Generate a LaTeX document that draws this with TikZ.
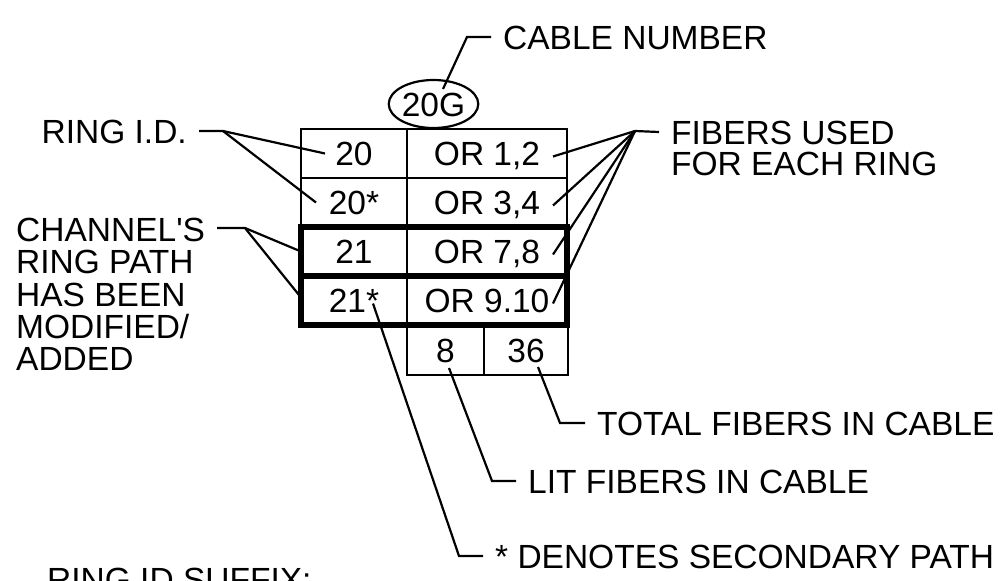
\documentclass[tikz,border=0pt]{standalone}
\usepackage{fontspec}
\setmainfont{Liberation Sans}
\usetikzlibrary{shapes.geometric,calc}

\begin{document}
\begin{tikzpicture}[x=1pt, y=-1pt,
  font=\fontsize{33.5}{31}\selectfont,
  cell/.style={draw, line width=2.2pt, inner sep=0pt, outer sep=0pt, minimum height=49pt, text height=24pt, text depth=0pt},
  lbl/.style={inner xsep=12pt, inner ysep=0pt, text height=24pt, text depth=0pt},
  lblblock/.style={inner xsep=12pt, inner ysep=0pt, align=left},
  lead/.style={line width=2.2pt},
  heavy/.style={line width=5.2pt}]
  \useasboundingbox (0,0) rectangle (1007,581);
  % ring table
  \node[cell, minimum width=106pt] (id1) at (354,153.5) {20};
  \node[cell, minimum width=160pt] (fib1) at (487,153.5) {OR 1,2};
  \node[cell, minimum width=106pt] (id2) at (354,202.5) {20*};
  \node[cell, minimum width=160pt] (fib2) at (487,202.5) {OR 3,4};
  \node[cell, minimum width=106pt] (id3) at (354,251.5) {21};
  \node[cell, minimum width=160pt] (fib3) at (487,251.5) {OR 7,8};
  \node[cell, minimum width=106pt] (id4) at (354,300.5) {21*};
  \node[cell, minimum width=160pt] (fib4) at (487,300.5) {OR 9.10};
  \node[cell, minimum width=77pt, minimum height=50pt] (lit) at (445.5,350) {8};
  \node[cell, minimum width=84pt, minimum height=50pt] (tot) at (526,350) {36};
  % modified rows
  \draw[heavy] (id3.north west) rectangle (fib4.south east);
  \draw[heavy] (id3.south west) -- (fib3.south east);
  % cable number
  \node[draw, ellipse, line width=2.2pt, minimum width=89pt, minimum height=48pt, inner sep=0pt, text height=24pt, text depth=0pt] (cable) at (433.5,104) {20G};
  % labels
  \node[lbl, anchor=base west] (cablelbl) at (491,49) {CABLE NUMBER};
  \node[lbl, anchor=base east] (ringlbl) at (199,143) {RING I.D.};
  \node[lblblock, anchor=north west] (fiberlbl) at (659,121) {FIBERS USED\\FOR EACH RING};
  \node[lblblock, anchor=north west, font=\fontsize{33.5}{32.3}\selectfont] (chanlbl) at (4,218) {CHANNEL\textquotesingle S\\RING PATH\\HAS BEEN\\MODIFIED/\\ADDED};
  \node[lbl, anchor=base west] (totlbl) at (585,435) {TOTAL FIBERS IN CABLE};
  \node[lbl, anchor=base west] (litlbl) at (516,493) {LIT FIBERS IN CABLE};
  \node[lbl, anchor=base west] (denlbl) at (483,568) {* DENOTES SECONDARY PATH};
  \node[lbl, anchor=base west] (suffixlbl) at (35,591) {RING ID SUFFIX:};
  % leaders
  \draw[lead] ($(cable.center)+(9.5,-15)$) -- ($(cablelbl.west)+(-24,0)$) -- (cablelbl.west);
  \coordinate (ringjoin) at (223,131);
  \draw[lead] (ringlbl.east) -- (ringjoin) -- ($(id1.center)+(-29,0)$);
  \draw[lead] (ringjoin) -- ($(id2.center)+(-38,0)$);
  \coordinate (chanjoin) at (245,228);
  \draw[lead] ($(chanlbl.north east)+(0,10)$) -- (chanjoin) -- (id3.west);
  \draw[lead] (chanjoin) -- ($(id4.west)+(0,-3)$);
  \coordinate (fibjoin) at (635,131);
  \draw[lead] ($(fiberlbl.north west)+(0,11)$) -- (fibjoin);
  \foreach \i in {1,...,4} \draw[lead] (fibjoin) -- ($(fib\i.east)+(-14,3)$);
  \draw[lead] ($(lit.center)+(3.5,18)$) -- ($(litlbl.west)+(-24,0)$) -- (litlbl.west);
  \draw[lead] ($(tot.center)+(12,17)$) -- ($(totlbl.west)+(-25,0)$) -- (totlbl.west);
  \draw[lead] ($(id4.center)+(19,3)$) -- ($(denlbl.west)+(-24,0)$) -- (denlbl.west);
\end{tikzpicture}
\end{document}
